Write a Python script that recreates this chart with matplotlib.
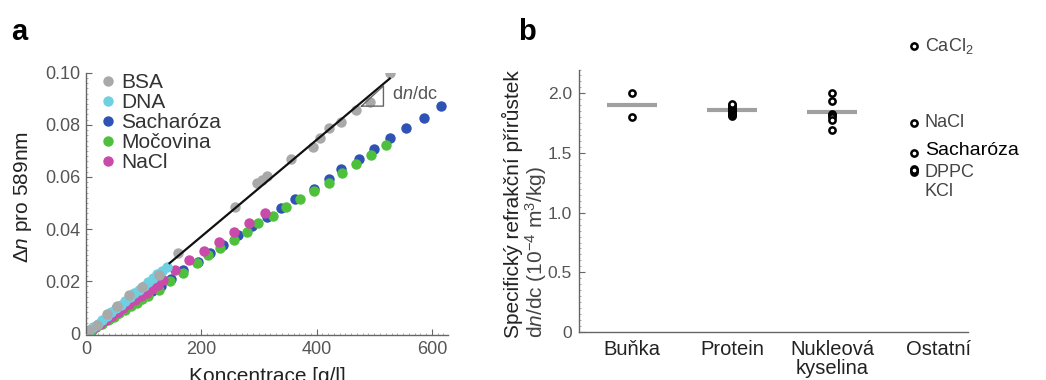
import matplotlib
matplotlib.use("Agg")
import matplotlib.pyplot as plt
from matplotlib.lines import Line2D
from matplotlib.ticker import MultipleLocator

plt.rcParams['font.family'] = ['Liberation Sans', 'DejaVu Sans']
plt.rcParams['mathtext.fontset'] = 'custom'
plt.rcParams['mathtext.rm'] = 'Liberation Sans'
plt.rcParams['mathtext.it'] = 'Liberation Sans:italic'

# --- panel a: refractive index increment vs concentration ---
bsa_c = [6, 19, 36, 54, 75, 97, 126, 159, 259, 296, 305, 314, 356, 393, 406, 421, 442, 469, 492, 528]
bsa_dn = [0.0013, 0.0032, 0.0074, 0.0105, 0.0147, 0.0179, 0.0224, 0.0307, 0.0486, 0.0576,
          0.0588, 0.0604, 0.0668, 0.0716, 0.0748, 0.0787, 0.0812, 0.0857, 0.0889, 0.100]

dna_c = [5, 12, 20, 28, 36, 44, 52, 60, 68, 76, 84, 92, 100, 108, 116, 124, 132, 140]
dna_dn = [0.0009, 0.0022, 0.0036, 0.0051, 0.0066, 0.0080, 0.0095, 0.0109, 0.0124, 0.0138,
          0.0153, 0.0167, 0.0182, 0.0197, 0.0211, 0.0226, 0.0240, 0.0255]

sach_c = [10, 25, 40, 55, 70, 85, 100, 115, 130, 148, 169, 195, 215, 238, 264, 288, 314, 338,
          363, 395, 421, 442, 473, 499, 527, 556, 586, 616]
sach_dn = [0.0014, 0.0035, 0.0056, 0.0078, 0.0099, 0.0120, 0.0141, 0.0162, 0.0183, 0.0209,
           0.0243, 0.0275, 0.0307, 0.0339, 0.0377, 0.0410, 0.0448, 0.0480, 0.0514, 0.0553,
           0.0591, 0.0629, 0.0668, 0.0706, 0.0748, 0.0787, 0.0825, 0.0872]

moc_c = [8, 18, 28, 38, 48, 58, 68, 78, 88, 98, 108, 126, 146, 168, 192, 212, 233, 256, 279,
         299, 324, 347, 371, 395, 421, 444, 469, 494, 521]
moc_dn = [0.0010, 0.0024, 0.0037, 0.0051, 0.0064, 0.0077, 0.0090, 0.0104, 0.0117, 0.0130,
          0.0143, 0.0166, 0.0201, 0.0233, 0.0269, 0.0300, 0.0326, 0.0358, 0.0390, 0.0422,
          0.0450, 0.0483, 0.0514, 0.0546, 0.0578, 0.0614, 0.0648, 0.0684, 0.0723]

nacl_c = [5, 15, 25, 35, 45, 55, 65, 75, 85, 95, 105, 115, 125, 134, 154, 179, 205, 230, 256, 282, 311]
nacl_dn = [0.0007, 0.0022, 0.0037, 0.0052, 0.0067, 0.0082, 0.0097, 0.0112, 0.0127, 0.0142,
           0.0156, 0.0171, 0.0186, 0.0205, 0.0243, 0.0281, 0.0317, 0.0352, 0.0390, 0.0425, 0.0463]

fit_c = [145, 527]
fit_dn = [0.0269, 0.0978]
tri_c = [478, 516, 516]
tri_dn = [0.0872, 0.0872, 0.0950]

# --- panel b: dn/dc per class ---
categories = ['Buňka', 'Protein', 'Nukleová\nkyselina', 'Ostatní']
cell_vals = [2.00, 1.80]
protein_vals = [1.81, 1.82, 1.83, 1.84, 1.85, 1.86, 1.87, 1.88, 1.89, 1.90, 1.91]
nucleic_vals = [2.00, 1.94, 1.83, 1.815, 1.80, 1.78, 1.69]
group_means = [1.90, 1.86, 1.84]
other_names = ['CaCl$_2$', 'NaCl', 'Sacharóza', 'DPPC', 'KCl']
other_vals = [2.40, 1.755, 1.50, 1.37, 1.34]
other_label_y = [2.40, 1.755, 1.52, 1.34, 1.176]

c_bsa = '#a9a9a9'
c_dna = '#6fd0e2'
c_sach = '#2f52b5'
c_moc = '#4fc03c'
c_nacl = '#c94aa9'
tick_col = '#555555'

fig = plt.figure(figsize=(10.46, 3.8), dpi=100)

ax = fig.add_axes([0.0822, 0.1184, 0.3461, 0.690])
ms = 7.5
ax.plot(fit_c, fit_dn, color='#111111', lw=1.6, zorder=3)
ax.plot(sach_c, sach_dn, 'o', color=c_sach, ms=ms, mec='none', zorder=2)
ax.plot(moc_c, moc_dn, 'o', color=c_moc, ms=ms, mec='none', zorder=2.1)
ax.plot(nacl_c, nacl_dn, 'o', color=c_nacl, ms=ms, mec='none', zorder=2.2)
ax.plot(dna_c, dna_dn, 'o', color=c_dna, ms=ms, mec='none', zorder=2.3)
ax.plot(bsa_c, bsa_dn, 'o', color=c_bsa, ms=ms, mec='none', zorder=2.4)
ax.plot(tri_c + [tri_c[0]], tri_dn + [tri_dn[0]], color='#666666', lw=1.0, zorder=4)
ax.text(530, 0.0915, r'd$n$/dc', fontsize=13, color='#555555', va='center', ha='left')

ax.set_xlim(0, 628)
ax.set_ylim(-0.0007, 0.10)
ax.set_xticks([0, 200, 400, 600])
ax.set_yticks([0, 0.02, 0.04, 0.06, 0.08, 0.10])
ax.set_yticklabels(['0', '0.02', '0.04', '0.06', '0.08', '0.10'])
ax.xaxis.set_minor_locator(MultipleLocator(10))
ax.yaxis.set_minor_locator(MultipleLocator(0.002))
ax.tick_params(which='major', direction='in', length=4, width=0.8, colors='#666666',
               labelsize=13, labelcolor=tick_col, pad=4)
ax.tick_params(which='minor', direction='in', length=1.5, width=0.5, colors='#888888')
for s in ['top', 'right']:
    ax.spines[s].set_visible(False)
for s in ['left', 'bottom']:
    ax.spines[s].set_color('#666666')
    ax.spines[s].set_linewidth(1.0)
ax.spines['left'].set_bounds(0, 0.10)
ax.set_xlabel('Koncentrace [g/l]', fontsize=15, color='#222222', labelpad=7)
fig.text(0.022, 0.4816, r'$\mathit{\Delta n}$ pro 589nm', rotation=90, fontsize=15,
         color='#222222', ha='center', va='center')

handles = [Line2D([], [], marker='o', ls='none', color=c, ms=ms, mec='none')
           for c in [c_bsa, c_dna, c_sach, c_moc, c_nacl]]
ax.legend(handles, ['BSA', 'DNA', 'Sacharóza', 'Močovina', 'NaCl'], loc='upper left',
          bbox_to_anchor=(0.02, 1.03), frameon=False, fontsize=15, handlelength=0.6,
          handletextpad=0.35, labelspacing=0.05, borderaxespad=0, labelcolor='#333333')

fig.text(0.011, 0.915, 'a', fontsize=21, fontweight='bold', ha='left', va='center')

# panel b
bx = fig.add_axes([0.5535, 0.1263, 0.3719, 0.6908])
mk = dict(marker='o', ls='none', mfc='white', mec='black', ms=4.5, mew=1.8, zorder=3, clip_on=False)
for i, m in enumerate(group_means):
    bx.plot([i + 1 - 0.25, i + 1 + 0.25], [m, m], color='#a0a0a0', lw=3, solid_capstyle='butt', zorder=2)
bx.plot([1] * len(cell_vals), cell_vals, **mk)
bx.plot([2] * len(protein_vals), protein_vals, **mk)
bx.plot([3] * len(nucleic_vals), nucleic_vals, **mk)
bx.plot([3.82] * len(other_vals), other_vals, **mk)
bx.plot([3.82], [1.355], **mk)
for name, y in zip(other_names, other_label_y):
    col = 'black' if name == 'Sacharóza' else '#444444'
    fs = 14 if name == 'Sacharóza' else 13
    bx.text(3.93, y, name, fontsize=fs, color=col, ha='left', va='center')

bx.set_xlim(0.47, 4.36)
bx.set_ylim(0, 2.2)
bx.set_yticks([0, 0.5, 1.0, 1.5, 2.0])
bx.set_yticklabels(['0', '0.5', '1.0', '1.5', '2.0'])
bx.set_xticks([1, 2, 3, 4.07])
bx.set_xticklabels(categories, fontsize=14.5, color='#222222', linespacing=0.95)
bx.yaxis.set_minor_locator(MultipleLocator(0.05))
bx.tick_params(axis='y', which='major', direction='in', length=4, width=0.8, colors='#666666',
               labelsize=12.5, labelcolor=tick_col, pad=5)
bx.tick_params(axis='y', which='minor', direction='in', length=1.5, width=0.5, colors='#888888')
bx.tick_params(axis='x', length=0, pad=6)
for s in ['top', 'right']:
    bx.spines[s].set_visible(False)
for s in ['left', 'bottom']:
    bx.spines[s].set_color('#666666')
    bx.spines[s].set_linewidth(1.0)

fig.text(0.4895, 0.1105, 'Specifický refrakční přírůstek', rotation=90, fontsize=15,
         color='#222222', ha='center', va='bottom')
fig.text(0.5125, 0.1105, r'd$n$/dc (10$^{-4}$ m$^3$/kg)', rotation=90, fontsize=15,
         color='#444444', ha='center', va='bottom')
fig.text(0.495, 0.915, 'b', fontsize=21, fontweight='bold', ha='left', va='center')

fig.savefig('out.png', dpi=100)
